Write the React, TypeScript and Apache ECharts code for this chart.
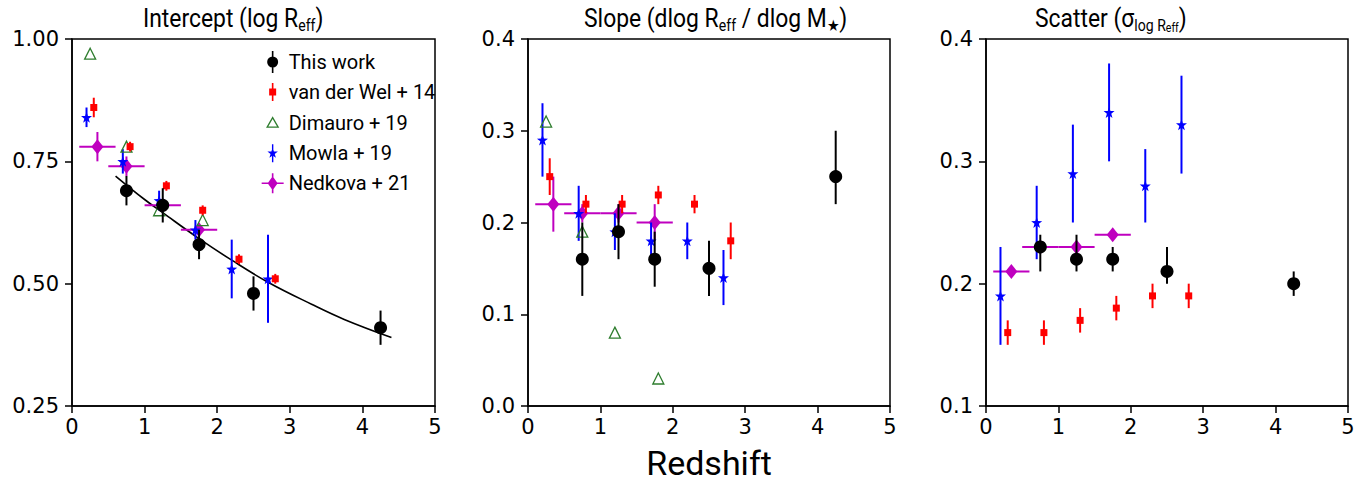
import React, { useEffect, useRef } from 'react';
import * as echarts from 'echarts';

// ---------- shared redshift positions ----------
const thisWorkZ = [0.75, 1.25, 1.75, 2.5, 4.25];
const vdwZ = [0.3, 0.8, 1.3, 1.8, 2.3, 2.8];
const dimauroZ = [0.25, 0.75, 1.2, 1.8];
const mowlaZ = [0.2, 0.7, 1.2, 1.7, 2.2, 2.7];
const nedkovaZ = [0.35, 0.75, 1.25, 1.75];
const nedkovaZErr = [0.25, 0.25, 0.25, 0.25];

// ---------- Panel 1: Intercept ----------
const intThisWork = [0.69, 0.66, 0.58, 0.48, 0.41];
const intThisWorkErr = [0.03, 0.035, 0.03, 0.035, 0.035];
const intVdw = [0.86, 0.78, 0.70, 0.65, 0.55, 0.51];
const intVdwErr = [0.02, 0.01, 0.01, 0.01, 0.01, 0.01];
const intDimauro = [0.97, 0.78, 0.65, 0.63];
const intMowla = [0.84, 0.75, 0.67, 0.61, 0.53, 0.51];
const intMowlaErr = [0.02, 0.025, 0.02, 0.02, 0.06, 0.09];
const intNedkova = [0.78, 0.74, 0.66, 0.61];
const intNedkovaErr = [0.03, 0.02, 0.01, 0.01];
const fitZ = [0.6, 1.0, 1.25, 1.75, 2.2, 2.7, 3.3, 3.75, 4.4];
const fitIntercept = [0.72, 0.672, 0.645, 0.592, 0.548, 0.503, 0.458, 0.427, 0.39];

// ---------- Panel 2: Slope ----------
const slThisWork = [0.16, 0.19, 0.16, 0.15, 0.25];
const slThisWorkErrLo = [0.04, 0.03, 0.03, 0.03, 0.03];
const slThisWorkErrHi = [0.04, 0.03, 0.03, 0.03, 0.05];
const slVdw = [0.25, 0.22, 0.22, 0.23, 0.22, 0.18];
const slVdwErr = [0.02, 0.01, 0.01, 0.01, 0.01, 0.02];
const slDimauro = [0.31, 0.19, 0.08, 0.03];
const slMowla = [0.29, 0.21, 0.19, 0.18, 0.18, 0.14];
const slMowlaErr = [0.04, 0.03, 0.02, 0.02, 0.02, 0.03];
const slNedkova = [0.22, 0.21, 0.21, 0.20];
const slNedkovaErr = [0.03, 0.01, 0.01, 0.02];

// ---------- Panel 3: Scatter ----------
const scThisWork = [0.23, 0.22, 0.22, 0.21, 0.20];
const scThisWorkErrLo = [0.02, 0.01, 0.01, 0.01, 0.01];
const scThisWorkErrHi = [0.01, 0.02, 0.01, 0.02, 0.01];
const scVdw = [0.16, 0.16, 0.17, 0.18, 0.19, 0.19];
const scVdwErr = [0.01, 0.01, 0.01, 0.01, 0.01, 0.01];
const scMowla = [0.19, 0.25, 0.29, 0.34, 0.28, 0.33];
const scMowlaErr = [0.04, 0.03, 0.04, 0.04, 0.03, 0.04];
const scNedkova = [0.21, 0.23, 0.23, 0.24];

// ---------- axes ----------
const yAxisRanges = [
  { min: 0.25, max: 1.0, interval: 0.25, digits: 2 },
  { min: 0.0, max: 0.4, interval: 0.1, digits: 1 },
  { min: 0.1, max: 0.4, interval: 0.1, digits: 1 },
];

const NAMES = {
  tw: 'This work',
  vdw: 'van der Wel + 14',
  dim: 'Dimauro + 19',
  mow: 'Mowla + 19',
  ned: 'Nedkova + 21',
};

const BLACK = '#000000';
const RED = '#ff0000';
const GREEN = '#2e7d2e';
const BLUE = '#0000ff';
const MAGENTA = '#bf00bf';

const STAR =
  'path://M11,6.5 L12.29,10.22 L16.23,10.30 L13.09,12.68 L14.23,16.45 L11,14.2 L7.77,16.45 L8.91,12.68 L5.77,10.30 L9.71,10.22 Z';

const BOX = 'M0,0 Z M22,24 Z ';
const ICON_TW = 'path://' + BOX + 'M10.2,1 H11.8 V23 H10.2 Z M5.5,12 A5.5,5.5 0 1,1 16.5,12 A5.5,5.5 0 1,1 5.5,12 Z';
const ICON_VDW = 'path://' + BOX + 'M10.2,3 H11.8 V21 H10.2 Z M7.5,8.5 H14.5 V15.5 H7.5 Z';
const ICON_DIM = 'path://' + BOX + 'M11,7 L16.5,16.5 L5.5,16.5 Z';
const ICON_MOW =
  'path://' + BOX +
  'M10.3,3 H11.7 V21 H10.3 Z M11,6.5 L12.29,10.22 L16.23,10.30 L13.09,12.68 L14.23,16.45 L11,14.2 L7.77,16.45 L8.91,12.68 L5.77,10.30 L9.71,10.22 Z';
const ICON_NED = 'path://' + BOX + 'M0,11.2 H22 V12.8 H0 Z M10.2,2 H11.8 V22 H10.2 Z M11,5 L16,12 L11,19 L6,12 Z';

function errSeries(
  name: string,
  idx: number,
  xs: number[],
  ys: number[],
  yLo: number[] | null,
  yHi: number[] | null,
  xErr: number[] | null,
  color: string,
  z: number
) {
  return {
    type: 'custom',
    name,
    xAxisIndex: idx,
    yAxisIndex: idx,
    z,
    silent: true,
    encode: { x: 0, y: 1 },
    data: xs.map((x, i) => [x, ys[i], xErr ? xErr[i] : 0, yLo ? yLo[i] : 0, yHi ? yHi[i] : 0]),
    renderItem: (params: any, api: any) => {
      const x = api.value(0);
      const y = api.value(1);
      const xe = api.value(2);
      const lo = api.value(3);
      const hi = api.value(4);
      const children: any[] = [];
      if (lo > 0 || hi > 0) {
        const p1 = api.coord([x, y - lo]);
        const p2 = api.coord([x, y + hi]);
        children.push({
          type: 'line',
          shape: { x1: p1[0], y1: p1[1], x2: p2[0], y2: p2[1] },
          style: { stroke: color, lineWidth: 2 },
        });
      }
      if (xe > 0) {
        const p1 = api.coord([x - xe, y]);
        const p2 = api.coord([x + xe, y]);
        children.push({
          type: 'line',
          shape: { x1: p1[0], y1: p1[1], x2: p2[0], y2: p2[1] },
          style: { stroke: color, lineWidth: 2 },
        });
      }
      return { type: 'group', children };
    },
  };
}

function markSeries(name: string, idx: number, xs: number[], ys: number[], symbol: string, size: any, itemStyle: any, z: number) {
  return {
    type: 'scatter',
    name,
    xAxisIndex: idx,
    yAxisIndex: idx,
    z,
    symbol,
    symbolSize: size,
    itemStyle: { opacity: 1, ...itemStyle },
    emphasis: { disabled: true },
    data: xs.map((x, i) => [x, ys[i]]),
  };
}

function panelSeries(
  idx: number,
  tw: number[], twLo: number[], twHi: number[],
  vdw: number[], vdwErr: number[],
  dim: number[] | null,
  mow: number[], mowErr: number[],
  ned: number[], nedErr: number[] | null
) {
  const s: any[] = [];
  s.push(errSeries(NAMES.ned, idx, nedkovaZ, ned, nedErr, nedErr, nedkovaZErr, MAGENTA, 2));
  s.push(markSeries(NAMES.ned, idx, nedkovaZ, ned, 'diamond', [12, 15], { color: MAGENTA }, 2));
  if (dim) {
    s.push(markSeries(NAMES.dim, idx, dimauroZ, dim, 'triangle', 11, { color: 'rgba(0,0,0,0)', borderColor: GREEN, borderWidth: 1.3 }, 3));
  }
  s.push(errSeries(NAMES.mow, idx, mowlaZ, mow, mowErr, mowErr, null, BLUE, 3));
  s.push(markSeries(NAMES.mow, idx, mowlaZ, mow, STAR, 11, { color: BLUE }, 3));
  s.push(errSeries(NAMES.vdw, idx, vdwZ, vdw, vdwErr, vdwErr, null, RED, 4));
  s.push(markSeries(NAMES.vdw, idx, vdwZ, vdw, 'rect', 7, { color: RED }, 4));
  s.push(errSeries(NAMES.tw, idx, thisWorkZ, tw, twLo, twHi, null, BLACK, 5));
  s.push(markSeries(NAMES.tw, idx, thisWorkZ, tw, 'circle', 13, { color: BLACK }, 5));
  return s;
}

const grids = [
  { left: 72, top: 39, width: 363, height: 367 },
  { left: 528, top: 39, width: 362, height: 367 },
  { left: 986, top: 39, width: 362, height: 367 },
];

const TITLE_FONT = 'Roboto, "Noto Sans", sans-serif';
const TICK_FONT = '"DejaVu Sans", sans-serif';

export default function App() {
  const ref = useRef<HTMLDivElement>(null);
  useEffect(() => {
    if (!ref.current) return;
    const chart = echarts.init(ref.current, null, { renderer: 'svg' });

    const series: any[] = [];
    series.push(...panelSeries(0, intThisWork, intThisWorkErr, intThisWorkErr, intVdw, intVdwErr, intDimauro, intMowla, intMowlaErr, intNedkova, intNedkovaErr));
    series.push({
      type: 'line',
      name: 'fit',
      xAxisIndex: 0,
      yAxisIndex: 0,
      z: 1,
      smooth: 0.4,
      showSymbol: false,
      silent: true,
      lineStyle: { color: BLACK, width: 1.6 },
      data: fitZ.map((x, i) => [x, fitIntercept[i]]),
    });
    series.push(...panelSeries(1, slThisWork, slThisWorkErrLo, slThisWorkErrHi, slVdw, slVdwErr, slDimauro, slMowla, slMowlaErr, slNedkova, slNedkovaErr));
    series.push(...panelSeries(2, scThisWork, scThisWorkErrLo, scThisWorkErrHi, scVdw, scVdwErr, null, scMowla, scMowlaErr, scNedkova, null));

    const titleRich = {
      a: { fontSize: 26, fontFamily: TITLE_FONT, color: '#000', lineHeight: 32 },
      s: { fontSize: 16, fontFamily: TITLE_FONT, color: '#000', lineHeight: 16, verticalAlign: 'bottom' },
      t: { fontSize: 12, fontFamily: TITLE_FONT, color: '#000', lineHeight: 4, verticalAlign: 'bottom' },
    };
    const TSX = 0.88;

    const option: any = {
      animation: false,
      backgroundColor: '#ffffff',
      grid: grids.map((g) => ({ ...g, show: true, borderColor: '#000', borderWidth: 1.5, backgroundColor: 'transparent' })),
      xAxis: grids.map((_, i) => ({
        type: 'value',
        gridIndex: i,
        min: 0,
        max: 5,
        interval: 1,
        axisLine: { show: true, onZero: false, lineStyle: { color: '#000', width: 1.5 } },
        axisTick: { show: true, inside: false, length: 7, lineStyle: { color: '#000', width: 1.5 } },
        axisLabel: { color: '#000', fontSize: 21, fontFamily: TICK_FONT, margin: 10 },
        splitLine: { show: false },
      })),
      yAxis: yAxisRanges.map((r, i) => ({
        type: 'value',
        gridIndex: i,
        min: r.min,
        max: r.max,
        interval: r.interval,
        axisLine: { show: true, onZero: false, lineStyle: { color: '#000', width: 1.5 } },
        axisTick: { show: true, inside: false, length: 7, lineStyle: { color: '#000', width: 1.5 } },
        axisLabel: {
          color: '#000',
          fontSize: 21,
          fontFamily: TICK_FONT,
          margin: 13,
          formatter: (v: number) => v.toFixed(r.digits),
        },
        splitLine: { show: false },
      })),
      legend: {
        orient: 'vertical',
        left: 261,
        top: 50,
        padding: 0,
        itemWidth: 22,
        itemHeight: 24,
        itemGap: 6,
        itemTextGap: 3,
        selectedMode: false,
        textStyle: { fontSize: 20, fontFamily: TITLE_FONT, color: '#000' },
        data: [
          { name: NAMES.tw, icon: ICON_TW, itemStyle: { color: BLACK, borderWidth: 0, opacity: 1 } },
          { name: NAMES.vdw, icon: ICON_VDW, itemStyle: { color: RED, borderWidth: 0, opacity: 1 } },
          { name: NAMES.dim, icon: ICON_DIM, itemStyle: { color: 'rgba(0,0,0,0)', borderColor: GREEN, borderWidth: 1.3, opacity: 1 } },
          { name: NAMES.mow, icon: ICON_MOW, itemStyle: { color: BLUE, borderWidth: 0, opacity: 1 } },
          { name: NAMES.ned, icon: ICON_NED, itemStyle: { color: MAGENTA, borderWidth: 0, opacity: 1 } },
        ],
      },
      graphic: [
        {
          type: 'text',
          x: 143,
          y: 2,
          scaleX: TSX,
          style: { text: '{a|Intercept (log R}{s|eff}{a|)}', rich: titleRich, align: 'left', verticalAlign: 'top' },
        },
        {
          type: 'text',
          x: 584,
          y: 2,
          scaleX: TSX,
          style: { text: '{a|Slope (dlog R}{s|eff}{a| / dlog M}{s|★}{a|)}', rich: titleRich, align: 'left', verticalAlign: 'top' },
        },
        {
          type: 'text',
          x: 1035,
          y: 2,
          scaleX: TSX,
          style: { text: '{a|Scatter (σ}{s|log R}{t|eff}{a|)}', rich: titleRich, align: 'left', verticalAlign: 'top' },
        },
        {
          type: 'text',
          x: 709,
          y: 463,
          style: {
            text: 'Redshift',
            fontSize: 34,
            fontFamily: TITLE_FONT,
            fill: '#000',
            align: 'center',
            verticalAlign: 'middle',
          },
        },
      ],
      series,
    };

    chart.setOption(option);
    return () => chart.dispose();
  }, []);

  return (
    <div
      ref={ref}
      style={{ position: 'fixed', left: 0, top: 0, width: 1369, height: 482, background: '#fff' }}
    />
  );
}
